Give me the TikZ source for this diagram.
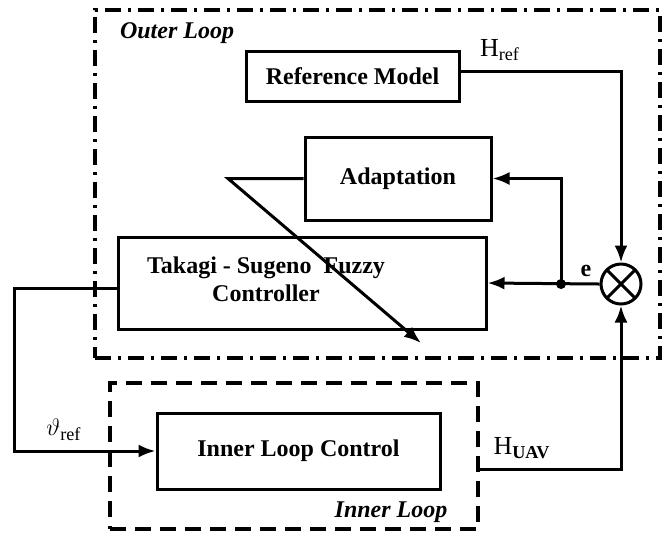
\documentclass[tikz,border=0pt]{standalone}
\usepackage{fontspec}
\setmainfont{Liberation Serif}
\usetikzlibrary{arrows.meta, positioning}

\tikzset{
  block/.style={draw, line width=1.5pt, inner sep=0pt, font=\fontsize{12}{14}\selectfont\bfseries},
  sig/.style={line width=1.5pt, -{Latex[length=8.5pt,width=6.5pt]}},
  wire/.style={line width=1.5pt},
  outerloop/.style={draw, line width=2pt, inner sep=0pt, dash pattern=on 8pt off 3.5pt on 1.5pt off 3.5pt},
  innerloop/.style={draw, line width=2pt, inner sep=0pt, dash pattern=on 8pt off 4.5pt},
  looplabel/.style={font=\fontsize{12}{14}\selectfont\bfseries\itshape},
  sigl/.style={font=\fontsize{13}{15}\selectfont},
}

\begin{document}
\begin{tikzpicture}[x=.5pt, y=-.5pt]
        \useasboundingbox (0,0) rectangle (667,532);

        % loop frames
        \node[outerloop, minimum width=282.5pt, minimum height=174pt] (outer) at (377.5,184) {};
        \node[innerloop, minimum width=184pt, minimum height=73pt] (innerl) at (294,456) {};
        \node[looplabel, anchor=west] (outerlbl) at (113,33) {Outer Loop};
        \node[looplabel] (innerlbl) at (391,512) {Inner Loop};

        % blocks
        \node[block, minimum width=106.5pt, minimum height=25pt] (refmodel) at (352.5,76) {Reference Model};
        \node[block, minimum width=93pt, minimum height=41.5pt] (adapt) at (398,178.5) {Adaptation};
        \node[block, minimum width=184pt, minimum height=46pt] (tsfc) at (302,283) {};
        \node[font=\fontsize{12}{14}\selectfont\bfseries, align=center] (tsfctext) at (266,279) {Takagi - Sugeno\ \ Fuzzy\\Controller};
        \node[block, minimum width=141.5pt, minimum height=38pt] (inner) at (298.5,451) {Inner Loop Control};
        \node[circle, draw, line width=1.5pt, minimum size=20pt, inner sep=0pt,
              path picture={\draw[line width=1.5pt] (path picture bounding box.north west) -- (path picture bounding box.south east)
                                 (path picture bounding box.north east) -- (path picture bounding box.south west);}] (sum) at (621,284) {};

        \coordinate (edot) at (561,284);
        \coordinate (bend) at (228,178.5);
        \coordinate (tip) at (421,343);

        % signals
        \draw[sig] ([yshift=2.5pt]refmodel.east) -| (sum.north);
        \draw[sig] (sum.west) -- (tsfc.east);
        \draw[sig] (edot) |- (adapt.east);
        \fill (edot) circle (2.5pt);
        \draw[sig] (adapt.west) -- (bend) -- (tip);
        \draw[sig] ([yshift=-2.5pt]tsfc.west) -- ++(-102,0) |- (inner.west);
        \draw[sig] (innerl.east |- 0,469) -| (sum.south);

        % labels
        \node[sigl] (hrefl) at (500,50) {H\textsubscript{ref}};
        \node[font=\fontsize{12}{14}\selectfont\bfseries] (el) at (586,271) {e};
        \node[sigl] (threfl) at (64,430) {$\vartheta$\textsubscript{ref}};
        \node[sigl] (huavl) at (522,448) {H\textsubscript{\textbf{UAV}}};
\end{tikzpicture}
\end{document}
